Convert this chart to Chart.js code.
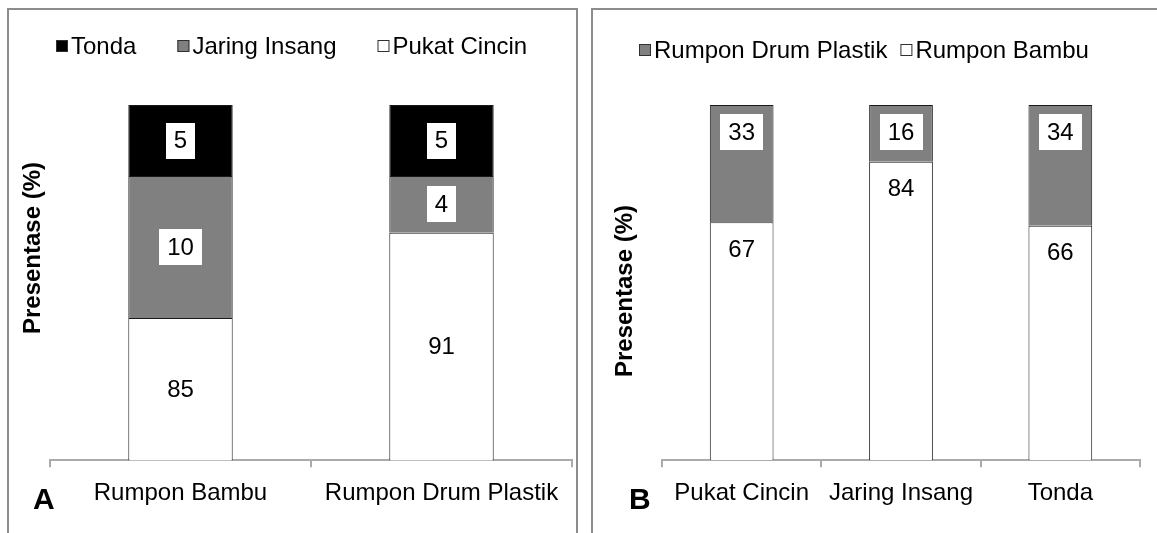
<!DOCTYPE html>
<html>
<head>
<meta charset="utf-8">
<script src="https://cdn.jsdelivr.net/npm/chart.js@4.4.1/dist/chart.umd.min.js"></script>
<style>
  body { margin: 0; background: #fff; width: 1157px; height: 533px; overflow: hidden; position: relative;
         font-family: "Liberation Sans", Arial, sans-serif; }
  .frame { position: absolute; border: 2px solid #8c8c8c; box-sizing: border-box; }
  #fA { left: 7px; top: 8px; width: 571px; height: 560px; }
  #fB { left: 591px; top: 8px; width: 600px; height: 560px; }
  .wrap { position: absolute; top: 0; height: 533px; }
  #wA { left: 0; width: 585px; }
  #wB { left: 585px; width: 572px; }
  .ytitle { position: absolute; font-weight: bold; font-size: 24px; white-space: nowrap; color: #000;
            transform: translate(-50%, -50%) rotate(-90deg); }
  .tag { position: absolute; font-weight: bold; font-size: 30px; line-height: 30px; color: #000; }
</style>
</head>
<body>
<div class="frame" id="fA"></div>
<div class="frame" id="fB"></div>
<div class="wrap" id="wA"><canvas id="cA"></canvas></div>
<div class="wrap" id="wB"><canvas id="cB"></canvas></div>
<div class="ytitle" style="left:32px;top:248px">Presentase (%)</div>
<div class="ytitle" style="left:624px;top:291px">Presentase (%)</div>
<div class="tag" style="left:33px;top:484px">A</div>
<div class="tag" style="left:629px;top:484px">B</div>
<script>
// ── Datos ─────────────────────────────────────────────────────────
const catA = ['Rumpon Bambu', 'Rumpon Drum Plastik'];
const pukatCincinA = [85, 91];
const jaringInsangA = [10, 4];
const tondaA = [5, 5];

const catB = ['Pukat Cincin', 'Jaring Insang', 'Tonda'];
const rumponBambuB = [67, 84, 66];
const rumponDrumB = [33, 16, 34];

const FONT = '"Liberation Sans", Arial, sans-serif';
Chart.defaults.font.family = FONT;
Chart.defaults.color = '#000';

// ── Etiquetas de cada segmento ────────────────────────────────────
const segLabels = {
  id: 'segLabels',
  afterDatasetsDraw(chart, args, opts) {
    const ctx = chart.ctx, area = chart.chartArea;
    ctx.save();
    ctx.font = '24px ' + FONT;
    ctx.textAlign = 'center';
    ctx.textBaseline = 'middle';
    chart.data.datasets.forEach((ds, i) => {
      chart.getDatasetMeta(i).data.forEach((bar, j) => {
        const top = Math.max(bar.y, area.top);
        const bottom = Math.min(bar.base, area.bottom);
        const y = opts.anchor === 'end' ? top + opts.offset : (top + bottom) / 2;
        const txt = String(ds.data[j]);
        if (ds.labelBox) {
          const w = ctx.measureText(txt).width + 16;
          ctx.fillStyle = '#fff';
          ctx.fillRect(Math.round(bar.x - w / 2), Math.round(y - 18), Math.round(w), 36);
        }
        ctx.fillStyle = '#000';
        ctx.fillText(txt, bar.x, y + 1);
      });
    });
    ctx.restore();
  }
};

// ── Leyenda compacta (caja pegada al texto) ───────────────────────
const boxLegend = {
  id: 'boxLegend',
  afterDraw(chart, args, opts) {
    const ctx = chart.ctx;
    ctx.save();
    ctx.font = '24px ' + FONT;
    ctx.textBaseline = 'middle';
    ctx.textAlign = 'left';
    let x = opts.x;
    const items = chart.data.datasets.slice().reverse();
    items.forEach(ds => {
      ctx.fillStyle = ds.backgroundColor;
      ctx.fillRect(x, opts.y - 6, 12, 12);
      ctx.strokeStyle = '#303030';
      ctx.lineWidth = 1;
      ctx.strokeRect(x + 0.5, opts.y - 5.5, 11, 11);
      ctx.fillStyle = '#000';
      ctx.fillText(ds.label, x + 15, opts.y + 1);
      x += 15 + ctx.measureText(ds.label).width + opts.gap;
    });
    ctx.restore();
  }
};

function xAxis() {
  return {
    stacked: true,
    grid: { offset: true, drawOnChartArea: false, drawTicks: true, tickLength: 7, color: '#ababab', lineWidth: 2 },
    border: { display: true, color: '#ababab', width: 2 },
    ticks: { color: '#000', font: { size: 24 }, padding: 12, maxRotation: 0, autoSkip: false },
  };
}

function seg(label, data, color, boxed) {
  return { label, data, backgroundColor: color, borderColor: '#1a1a1a', borderWidth: 1,
           barPercentage: 0.4, categoryPercentage: 1, labelBox: boxed };
}

// ── Grafico A ─────────────────────────────────────────────────────
new Chart(document.getElementById('cA'), {
  type: 'bar',
  data: {
    labels: catA,
    datasets: [
      seg('Pukat Cincin', pukatCincinA, '#ffffff', false),
      seg('Jaring Insang', jaringInsangA, '#808080', true),
      seg('Tonda', tondaA, '#000000', true),
    ],
  },
  options: {
    responsive: true, maintainAspectRatio: false, animation: false,
    layout: { padding: { left: 50, right: 13, top: 105, bottom: 13 } },
    plugins: {
      legend: { display: false },
      tooltip: { enabled: false },
      segLabels: { anchor: 'center' },
      boxLegend: { x: 56, y: 46, gap: 41 },
    },
    scales: {
      x: xAxis(),
      y: { display: false, stacked: true, min: 75, max: 100 },
    },
  },
  plugins: [segLabels, boxLegend],
});

// ── Grafico B ─────────────────────────────────────────────────────
new Chart(document.getElementById('cB'), {
  type: 'bar',
  data: {
    labels: catB,
    datasets: [
      seg('Rumpon Bambu', rumponBambuB, '#ffffff', false),
      seg('Rumpon Drum Plastik', rumponDrumB, '#808080', true),
    ],
  },
  options: {
    responsive: true, maintainAspectRatio: false, animation: false,
    layout: { padding: { left: 77, right: 17, top: 105, bottom: 13 } },
    plugins: {
      legend: { display: false },
      tooltip: { enabled: false },
      segLabels: { anchor: 'end', offset: 27 },
      boxLegend: { x: 54, y: 50, gap: 13 },
    },
    scales: {
      x: xAxis(),
      y: { display: false, stacked: true, min: 0, max: 100 },
    },
  },
  plugins: [segLabels, boxLegend],
});
</script>
</body>
</html>
